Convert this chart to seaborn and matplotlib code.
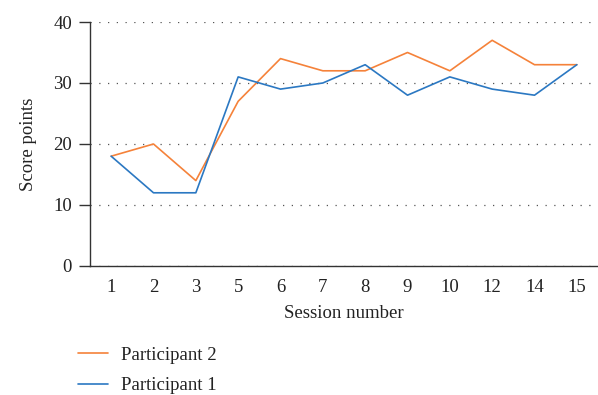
import pandas as pd
import matplotlib.pyplot as plt
import seaborn as sns

# session labels (evenly spaced categories)
sessions = ['1', '2', '3', '5', '6', '7', '8', '9', '10', '12', '14', '15']
participant2 = [18, 20, 14, 27, 34, 32, 32, 35, 32, 37, 33, 33]
participant1 = [18, 12, 12, 31, 29, 30, 33, 28, 31, 29, 28, 33]

df = pd.DataFrame({'session': sessions,
                   'Participant 2': participant2,
                   'Participant 1': participant1})
df = df.melt(id_vars='session', var_name='who', value_name='score')

sns.set_style('white')
plt.rcParams['font.family'] = ['Liberation Serif', 'DejaVu Serif']

fig = plt.figure(figsize=(5.98, 3.95), dpi=100)
ax = fig.add_axes([0.1505, 0.3266, 0.8495, 0.6177])

sns.lineplot(data=df, x='session', y='score', hue='who',
             hue_order=['Participant 2', 'Participant 1'],
             palette={'Participant 2': '#f5823a', 'Participant 1': '#2b78c2'},
             linewidth=1.2, sort=False, ax=ax)

ax.set_xlim(-0.5, len(sessions) - 0.5)
ax.set_ylim(0, 40)
ax.set_yticks([0, 10, 20, 30, 40])
ax.yaxis.grid(True, linestyle=(0, (1, 6)), color='#555555', linewidth=0.9)
ax.set_axisbelow(True)
for s in ['top', 'right']:
    ax.spines[s].set_visible(False)
for s in ['left', 'bottom']:
    ax.spines[s].set_color('#333333')
    ax.spines[s].set_linewidth(1.0)
ax.tick_params(axis='y', left=True, length=8, width=1, color='#333333',
               labelsize=13.5, labelcolor='#222222', pad=5)
ax.tick_params(axis='x', bottom=False, labelsize=13.5, labelcolor='#222222', pad=6)
ax.set_xlabel('Session number', fontsize=13.5, color='#222222', labelpad=6)
ax.set_ylabel('Score points', fontsize=13.5, color='#222222', labelpad=12)

handles, labels = ax.get_legend_handles_labels()
ax.legend_.remove()
fig.legend(handles, labels, loc='upper left', bbox_to_anchor=(0.102, 0.165),
           frameon=False, fontsize=13.5, handlelength=1.6, handletextpad=0.7,
           labelspacing=0.7, labelcolor='#222222')

fig.savefig('out.png', dpi=100)
